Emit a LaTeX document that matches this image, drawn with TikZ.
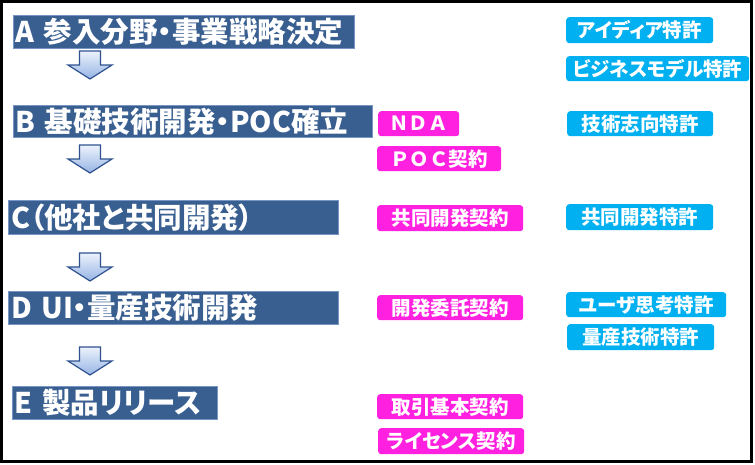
\documentclass[tikz,border=0pt]{standalone}
\usepackage{fontspec}
\newfontfamily\cjk{Noto Sans CJK JP}
\newfontfamily\cjkp{Noto Sans CJK JP}[RawFeature=+palt]
\definecolor{barblue}{RGB}{57,95,145}
\definecolor{barglow}{RGB}{120,150,195}
\definecolor{pinkc}{RGB}{255,32,224}
\definecolor{cyanc}{RGB}{0,176,240}
\definecolor{arrline}{RGB}{47,82,143}
\definecolor{arrtop}{RGB}{236,242,252}
\definecolor{arrbot}{RGB}{150,180,228}
\tikzset{
  bar/.style={fill=barblue, draw=barglow, line width=1.2pt, text=white, anchor=north west,
    inner xsep=2pt, inner ysep=0pt, align=left,
    font=\cjkp\bfseries\fontsize{28.5}{30}\selectfont},
  tag/.style={rounded corners=3pt, text=white, anchor=north west, inner sep=0pt,
    font=\cjkp\bfseries\fontsize{19.5}{22}\selectfont},
  pinktag/.style={tag, fill=pinkc},
  cyantag/.style={tag, fill=cyanc},
  widetag/.style={font=\cjk\bfseries\fontsize{19.5}{22}\selectfont},
  downarr/.pic={\draw[arrline, line width=1.2pt, line join=miter, top color=arrtop, bottom color=arrbot]
    (-10.5,0) -- (10.5,0) -- (10.5,14) -- (22,14) -- (0,28) -- (-22,14) -- (-10.5,14) -- cycle;}
}
\begin{document}
\begin{tikzpicture}[x=1pt,y=-1pt]
\useasboundingbox (0,0) rectangle (755,464);
\fill[white] (0,0) rectangle (755,464);
\draw[black, line width=2.5pt] (1.5,1.5) rectangle (751.5,461.5);
% process bars
\node[bar, text width=337pt, minimum height=33pt] (A) at (13,15) {A 参入分野・事業戦略決定};
\node[bar, text width=355pt, minimum height=32pt] (B) at (13,105) {B 基礎技術開発・POC確立};
\node[bar, text width=325pt, minimum height=34pt, inner xsep=2.5pt] (C) at (8,200) {C（他社と共同開発）};
\node[bar, text width=325pt, minimum height=33pt, inner xsep=2.5pt] (D) at (8,291) {D UI・量産技術開発};
\node[bar, text width=201pt, minimum height=33pt] (E) at (12,386) {E 製品リリース};
% block arrows
\pic at (90,51) {downarr};
\pic at (90,145) {downarr};
\pic at (90,253) {downarr};
\pic at (90,347) {downarr};
% contracts
\node[pinktag, widetag, minimum width=81pt, minimum height=25pt] (nda) at (378,111) {ＮＤＡ};
\node[pinktag, widetag, minimum width=124pt, minimum height=25pt] (poc) at (377,146) {ＰＯＣ契約};
\node[pinktag, minimum width=146pt, minimum height=26pt] (kyoyaku) at (377,205) {共同開発契約};
\node[pinktag, minimum width=146pt, minimum height=25pt] (itaku) at (377,295) {開発委託契約};
\node[pinktag, minimum width=146pt, minimum height=25pt] (torihiki) at (377,394) {取引基本契約};
\node[pinktag, minimum width=146pt, minimum height=26pt] (license) at (378,428) {ライセンス契約};
% patents
\node[cyantag, minimum width=147pt, minimum height=26pt] (idea) at (566,17) {アイディア特許};
\node[cyantag, minimum width=183pt, minimum height=25pt] (bm) at (566,56) {ビジネスモデル特許};
\node[cyantag, minimum width=146pt, minimum height=25pt] (gijutsu) at (567,111) {技術志向特許};
\node[cyantag, minimum width=147pt, minimum height=26pt] (kyotoku) at (566,204) {共同開発特許};
\node[cyantag, minimum width=160pt, minimum height=25pt] (user) at (566,292) {ユーザ思考特許};
\node[cyantag, minimum width=147pt, minimum height=26pt] (ryosan) at (567,324) {量産技術特許};
\end{tikzpicture}
\end{document}
